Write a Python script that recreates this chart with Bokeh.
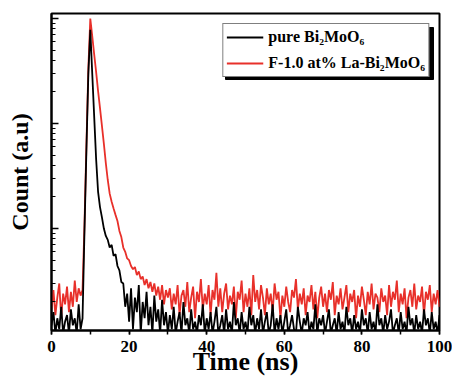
from bokeh.plotting import figure
from bokeh.models import (Range1d, Legend, LegendItem, BoxAnnotation,
                          LogTicker, SingleIntervalTicker, CustomJSTickFormatter)
from bokeh.embed import file_html
from bokeh.resources import INLINE

# ---- data (time in ns, counts a.u.) ----
time_ns = [i * 0.5 for i in range(201)]

pure_counts = [
    12, 16, 10, 14, 11, 18, 10, 13, 15, 10,
    17, 12, 14, 10, 19, 11, 14, 95, 560, 3000,
    7800, 3000, 1170, 460, 225, 160, 128, 100, 85, 78,
    66, 70, 55, 57, 44, 40, 31, 30, 18, 24,
    13, 27, 11, 22, 16, 29, 10, 20, 14, 25,
    12, 18, 10, 23, 13, 17, 10, 21, 12, 16,
    10, 15, 11, 18, 10, 13, 16, 10, 20, 12,
    14, 10, 17, 11, 13, 10, 15, 12, 19, 10,
    14, 11, 16, 10, 13, 18, 10, 12, 15, 10,
    17, 11, 13, 10, 20, 12, 14, 10, 16, 11,
    13, 10, 18, 12, 15, 10, 14, 11, 17, 10,
    13, 16, 10, 12, 19, 10, 14, 11, 15, 10,
    13, 17, 10, 12, 15, 11, 10, 18, 13, 10,
    14, 12, 16, 10, 13, 11, 19, 10, 14, 12,
    15, 10, 13, 17, 10, 12, 14, 10, 16, 11,
    13, 10, 18, 12, 14, 10, 15, 11, 13, 10,
    17, 12, 14, 10, 16, 11, 13, 10, 19, 12,
    14, 10, 15, 11, 13, 17, 10, 12, 14, 10,
    16, 11, 13, 10, 18, 12, 14, 10, 15, 11,
    13, 10, 17, 12, 14, 10, 16, 11, 13, 10,
    15]

la_counts = [
    17, 26, 15, 22, 30, 14, 24, 19, 28, 16,
    25, 18, 32, 20, 27, 23, 26, 110, 630, 3400,
    10000, 6800, 4550, 3100, 2050, 1400, 950, 640, 420, 290,
    215, 180, 155, 135, 118, 95, 83, 66, 60, 52,
    50, 44, 41, 43, 36, 39, 33, 35, 29, 33,
    27, 31, 25, 30, 23, 28, 21, 29, 19, 26,
    22, 27, 17, 24, 19, 29, 15, 23, 26, 18,
    31, 16, 22, 28, 14, 25, 20, 33, 17, 24,
    19, 29, 15, 26, 21, 38, 18, 27, 16, 24,
    30, 17, 23, 19, 28, 14, 25, 21, 32, 16,
    24, 18, 27, 15, 36, 20, 26, 17, 29, 22,
    15, 27, 19, 24, 16, 30, 21, 25, 14, 23,
    18, 28, 20, 16, 26, 22, 33, 17, 24, 19,
    27, 15, 23, 20, 29, 17, 25, 14, 22, 28,
    18, 24, 16, 26, 21, 31, 15, 23, 19, 27,
    17, 22, 29, 16, 24, 20, 26, 14, 23, 18,
    28, 21, 15, 25, 19, 30, 17, 24, 22, 16,
    27, 20, 23, 15, 29, 18, 25, 21, 32, 16,
    24, 19, 27, 14, 22, 26, 18, 30, 17, 23,
    20, 28, 15, 25, 21, 29, 16, 24, 19, 26,
    18]

series_labels = ["pure Bi\u2082MoO\u2086", "F-1.0 at% La-Bi\u2082MoO\u2086"]

FONT = "Liberation Serif"
RED = "#e8302a"

p = figure(width=452, height=380, output_backend="svg", toolbar_location=None,
           y_axis_type="log",
           x_range=Range1d(0, 100), y_range=Range1d(10.7, 11160),
           min_border_left=51, min_border_right=13, min_border_top=13,
           min_border_bottom=50)
p.grid.visible = False
p.outline_line_color = "black"
p.outline_line_width = 2
p.background_fill_color = "white"
p.border_fill_color = "white"

r_red = p.line(time_ns, la_counts, line_color=RED, line_width=1.8)
r_black = p.line(time_ns, pure_counts, line_color="black", line_width=1.8)

# x axis
xa = p.xaxis[0]
xa.ticker = SingleIntervalTicker(interval=20, num_minor_ticks=2)
xa.axis_line_width = 2
xa.major_tick_in = 0
xa.major_tick_out = 4
xa.minor_tick_in = 0
xa.minor_tick_out = 4
xa.major_tick_line_width = 1.5
xa.minor_tick_line_width = 1.5
xa.major_label_text_font = FONT
xa.major_label_text_font_style = "bold"
xa.major_label_text_font_size = "17px"
xa.major_label_text_color = "black"
xa.major_label_standoff = 6
xa.axis_label = "Time (ns)"
xa.axis_label_text_font = FONT
xa.axis_label_text_font_style = "bold"
xa.axis_label_text_font_size = "26px"
xa.axis_label_text_color = "black"
xa.axis_label_standoff = -8

# y axis (log, no tick labels)
ya = p.yaxis[0]
ya.ticker = LogTicker(num_minor_ticks=10)
ya.formatter = CustomJSTickFormatter(code="return ''")
ya.axis_line_width = 2
ya.major_tick_in = 7
ya.major_tick_out = 0
ya.minor_tick_in = 4
ya.minor_tick_out = 0
ya.major_tick_line_width = 1.5
ya.minor_tick_line_width = 1.2
ya.major_label_text_font = FONT
ya.major_label_text_font_size = "10px"
ya.major_label_standoff = 0
ya.axis_label = "Count (a.u)"
ya.axis_label_text_font = FONT
ya.axis_label_text_font_style = "bold"
ya.axis_label_text_font_size = "24px"
ya.axis_label_text_color = "black"
ya.axis_label_standoff = 19

# legend shadow (frame-relative screen px)
p.add_layout(BoxAnnotation(left=174, right=382, bottom=251, top=303,
                           left_units="screen", right_units="screen",
                           bottom_units="screen", top_units="screen",
                           fill_color="black", fill_alpha=1.0,
                           line_color="black", line_alpha=1.0))

legend = Legend(items=[LegendItem(label=series_labels[0], renderers=[r_black]),
                       LegendItem(label=series_labels[1], renderers=[r_red])],
                location="top_right")
legend.label_text_font = FONT
legend.label_text_font_style = "bold"
legend.label_text_font_size = "16px"
legend.label_text_color = "black"
legend.glyph_width = 37
legend.glyph_height = 20
legend.label_height = 20
legend.label_standoff = 5
legend.padding = 3
legend.spacing = 6
legend.margin = 10
legend.border_line_color = "black"
legend.border_line_width = 1
legend.background_fill_color = "white"
legend.background_fill_alpha = 1.0
p.add_layout(legend)

open("out.html", "w").write(file_html(p, INLINE))
